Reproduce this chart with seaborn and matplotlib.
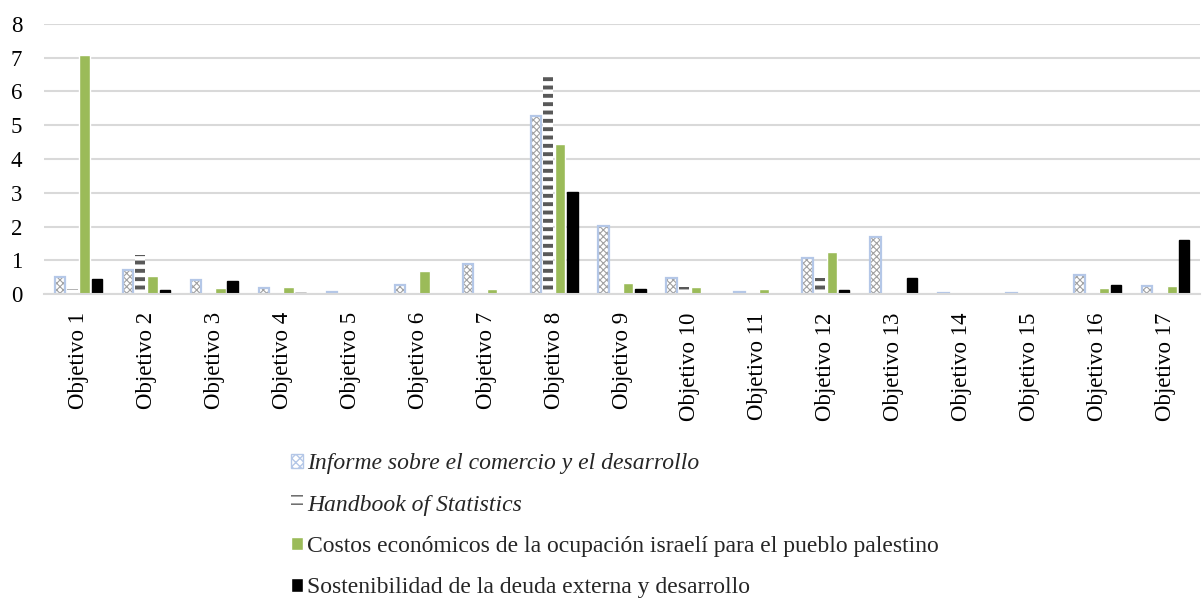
import pandas as pd
import seaborn as sns
import matplotlib.pyplot as plt
from matplotlib.patches import Rectangle

objetivos = ["Objetivo %d" % i for i in range(1, 18)]

informe = [0.51, 0.71, 0.41, 0.19, 0.06, 0.27, 0.88, 5.28, 2.03, 0.48,
           0.06, 1.06, 1.68, 0.02, 0.04, 0.57, 0.24]
handbook = [0.14, 1.16, 0.0, 0.0, 0.0, 0.0, 0.0, 6.42, 0.0, 0.22,
            0.0, 0.49, 0.0, 0.0, 0.0, 0.0, 0.0]
costos = [7.08, 0.54, 0.19, 0.22, 0.02, 0.67, 0.16, 4.45, 0.32, 0.22,
          0.14, 1.26, 0.0, 0.0, 0.0, 0.19, 0.24]
sostenibilidad = [0.44, 0.12, 0.40, 0.04, 0.0, 0.0, 0.0, 3.03, 0.15, 0.0,
                  0.0, 0.12, 0.48, 0.0, 0.0, 0.27, 1.60]

series = ["Informe sobre el comercio y el desarrollo",
          "Handbook of Statistics",
          "Costos económicos de la ocupación israelí para el pueblo palestino",
          "Sostenibilidad de la deuda externa y desarrollo"]

df = pd.DataFrame({"Informe": informe, "Handbook": handbook,
                   "Costos": costos, "Sost": sostenibilidad}, index=objetivos)
df.columns = series
df = df.reset_index().rename(columns={"index": "Objetivo"})
long = df.melt(id_vars="Objetivo", var_name="Serie", value_name="Valor")

sns.set_style("white")
plt.rcParams["font.family"] = ["Liberation Serif", "DejaVu Serif"]

fig = plt.figure(figsize=(12.02, 5.99), dpi=100)
ax = fig.add_axes([0.037, 0.509, 0.961, 0.451])

colors = ["white", "white", "#9BBB59", "black"]
sns.barplot(data=long, x="Objetivo", y="Valor", hue="Serie", order=objetivos,
            hue_order=series, palette=colors, width=0.72, gap=0.15,
            saturation=1, errorbar=None, ax=ax, legend=False)

per_patch = hasattr(ax.containers[0][0], "set_hatch_linewidth")
if not per_patch:
    plt.rcParams["hatch.linewidth"] = 2.5

# patterns
for p in ax.containers[0]:
    p.set_facecolor("white")
    p.set_hatch("xxxxx")
    p.set_edgecolor("#A0A0A0")
    p.set_linewidth(0)
    if per_patch:
        p.set_hatch_linewidth(0.8)
    ax.add_patch(Rectangle((p.get_x(), 0), p.get_width(), p.get_height(),
                           fill=False, edgecolor="#B4C7E7", linewidth=1.6))
for p in ax.containers[1]:
    p.set_facecolor("white")
    p.set_hatch("--")
    p.set_edgecolor("#595959")
    p.set_linewidth(0)
    if per_patch:
        p.set_hatch_linewidth(2.8)
for p in ax.containers[3]:
    p.set_edgecolor("black")

ax.set_ylim(0, 8)
ax.set_yticks(range(0, 9))
ax.set_xlim(-0.5, 16.5)
ax.yaxis.grid(True, color="#D9D9D9", linewidth=1.5)
ax.set_axisbelow(True)
for s in ["top", "right", "left"]:
    ax.spines[s].set_visible(False)
ax.spines["bottom"].set_color("#D9D9D9")
ax.spines["bottom"].set_linewidth(1.5)
ax.tick_params(axis="both", length=0, labelsize=16.5, colors="black")
ax.tick_params(axis="y", pad=16)
ax.tick_params(axis="x", pad=13)
plt.setp(ax.get_xticklabels(), rotation=90)
ax.set_xlabel("")
ax.set_ylabel("")

handles = [Rectangle((0, 0), 1, 1, facecolor="white", edgecolor="#B4C7E7", hatch="xxxx"),
           Rectangle((0, 0), 1, 1, facecolor="white", edgecolor="#595959", hatch="--", linewidth=0),
           Rectangle((0, 0), 1, 1, facecolor="#9BBB59"),
           Rectangle((0, 0), 1, 1, facecolor="black")]
leg = fig.legend(handles, series, loc="upper left", bbox_to_anchor=(0.234, 0.259),
                 frameon=False, fontsize=17, handlelength=0.5, handleheight=0.5,
                 handletextpad=0.2, labelspacing=0.86, borderaxespad=0)
for t in leg.get_texts()[:2]:
    t.set_fontstyle("italic")

fig.savefig("out.png", dpi=100)
